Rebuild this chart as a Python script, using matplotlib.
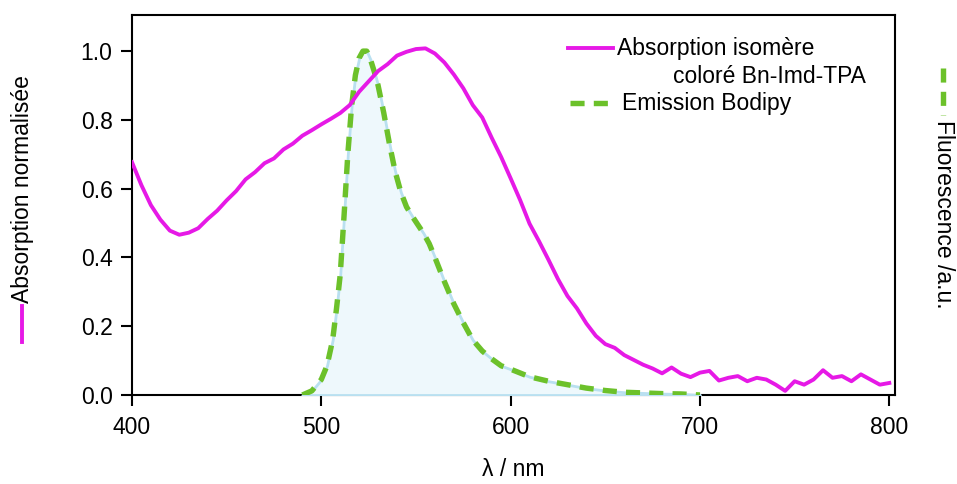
import numpy as np
import matplotlib
matplotlib.use('Agg')
import matplotlib.pyplot as plt
from matplotlib.lines import Line2D

plt.rcParams['font.family'] = ['Liberation Sans', 'DejaVu Sans']
plt.rcParams['font.size'] = 16.5

# absorption de l'isomère coloré (normalisée), pas de 5 nm
abs_wl = np.arange(400, 801, 5)
abs_val = [0.677, 0.61, 0.552, 0.51, 0.478, 0.466, 0.472, 0.485, 0.512, 0.536,
           0.566, 0.593, 0.627, 0.648, 0.674, 0.688, 0.714, 0.731, 0.754, 0.77,
           0.787, 0.803, 0.82, 0.843, 0.882, 0.912, 0.942, 0.962, 0.987, 0.998,
           1.006, 1.008, 0.993, 0.967, 0.932, 0.892, 0.843, 0.807, 0.748, 0.692,
           0.63, 0.567, 0.498, 0.447, 0.393, 0.337, 0.288, 0.252, 0.208, 0.172,
           0.148, 0.137, 0.116, 0.102, 0.088, 0.077, 0.063, 0.08, 0.062, 0.052,
           0.065, 0.07, 0.042, 0.05, 0.055, 0.04, 0.05, 0.045, 0.03, 0.012,
           0.04, 0.03, 0.045, 0.072, 0.05, 0.055, 0.04, 0.06, 0.045, 0.03,
           0.035]

# émission du Bodipy
em_wl = [490, 495, 500, 503, 506, 508, 510, 512, 514, 516, 518, 520, 522, 524,
         526, 528, 530, 533, 536, 539, 542, 545, 548, 551, 554, 557, 560, 565,
         570, 575, 580, 585, 590, 595, 600, 610, 620, 630, 640, 650, 660, 670,
         680, 690, 700]
em_val = [0.0, 0.012, 0.045, 0.085, 0.16, 0.25, 0.35, 0.52, 0.70, 0.84, 0.93,
          0.98, 1.0, 1.0, 0.975, 0.94, 0.9, 0.82, 0.73, 0.65, 0.59, 0.547, 0.52,
          0.495, 0.47, 0.44, 0.40, 0.33, 0.265, 0.21, 0.16, 0.128, 0.105, 0.085,
          0.075, 0.053, 0.04, 0.03, 0.02, 0.013, 0.008, 0.006, 0.004, 0.003, 0.0]

magenta = '#e619e6'
vert = '#6cc12a'
lw_abs = 2.8
lw_em = 3.9
tirets = (2.6, 1.7)

fig = plt.figure(figsize=(9.57, 4.84), dpi=100)
ax = fig.add_axes([0.1379, 0.1839, 0.7973, 0.7851])

ax.fill_between(em_wl, em_val, 0, color='#eef8fc', edgecolor='#b9e0f0',
                linewidth=2, zorder=3)
ax.plot(em_wl, em_val, color=vert, linewidth=lw_em, dashes=tirets, zorder=4)
ax.plot(abs_wl, abs_val, color=magenta, linewidth=lw_abs, zorder=5)

ax.set_xlim(400, 803)
ax.set_ylim(0, 1.105)
ax.set_xticks([400, 500, 600, 700, 800])
ax.set_yticks([0.0, 0.2, 0.4, 0.6, 0.8, 1.0])
ax.set_yticklabels(['0.0', '0.2', '0.4', '0.6', '0.8', '1.0'])
ax.tick_params(direction='out', length=8, width=1.5, pad=7)
ax.tick_params(axis='y', pad=6)
for s in ax.spines.values():
    s.set_linewidth(1.5)

ax.set_xlabel('λ / nm', labelpad=14)

# légende faite à la main
ax.plot([0.571, 0.630], [0.913, 0.913], transform=ax.transAxes,
        color=magenta, linewidth=lw_abs, zorder=6)
ax.text(0.636, 0.913, 'Absorption isomère', transform=ax.transAxes,
        va='center', ha='left')
ax.text(0.962, 0.837, 'coloré Bn-Imd-TPA', transform=ax.transAxes,
        va='center', ha='right')
ax.plot([0.574, 0.634], [0.768, 0.768], transform=ax.transAxes,
        color=vert, linewidth=lw_em, dashes=tirets, zorder=6)
ax.text(0.642, 0.768, 'Emission Bodipy', transform=ax.transAxes,
        va='center', ha='left')

# titres des axes avec leur trait
fig.text(0.023, 0.374, 'Absorption normalisée', rotation=90,
         va='bottom', ha='center')
fig.add_artist(Line2D([0.023, 0.023], [0.293, 0.368], color=magenta,
                      linewidth=lw_abs))
fig.text(0.986, 0.752, 'Fluorescence /a.u.', rotation=-90,
         va='top', ha='center')
fig.add_artist(Line2D([0.985, 0.985], [0.86, 0.762], color=vert,
                      linewidth=lw_em, dashes=tirets))

fig.savefig('out.png', dpi=100)
